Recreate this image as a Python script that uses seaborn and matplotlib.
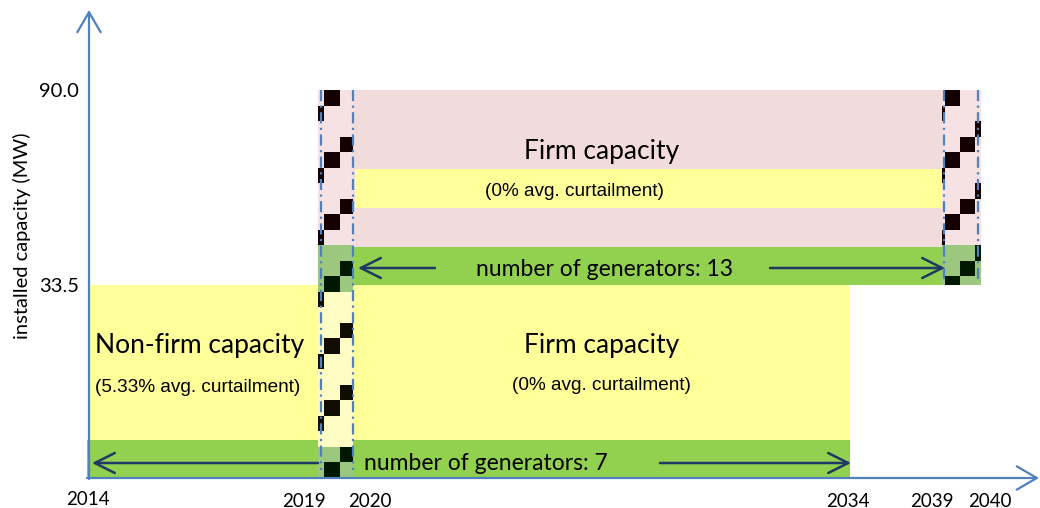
import numpy as np
import matplotlib
matplotlib.use("Agg")
import matplotlib.pyplot as plt
from matplotlib.transforms import ScaledTranslation
import seaborn as sns

W, H = 1040, 508

# --- schematic axes --------------------------------------------------------
years = [2014, 2019, 2020, 2034, 2039, 2040]
capacity_ticks = [33.5, 90.0]
capacity_labels = ["33.5", "90.0"]

# where the drawing puts each year / capacity (pixels), it is not to scale
year_px = [89, 318, 355, 850, 943, 980]
cap_levels = [0, 33.5, 90.0]
cap_px = [30, 223, 418]

# --- capacity blocks ---------------------------------------------------------
block_start = [2014, 2019, 2014, 2020, 2019]
block_end = [2034, 2040, 2034, 2039, 2040]
block_low = [0, 33.5, 0, 55.8, 33.5]
block_high = [33.5, 90.0, 6.6, 67.1, 44.5]
block_kind = ["yellow", "pink", "green", "yellow", "green"]

PALETTE = {"yellow": "#ffff99", "pink": "#f2dcdb", "green": "#92d050"}
LIGHT = {"yellow": "#fffcc4", "pink": "#f6e2e2", "green": "#9cc77e"}
DARK = {"yellow": "#100c00", "pink": "#140000", "green": "#001800"}
AXIS_BLUE = "#4f81bd"
NAVY = "#1f3864"


def pw_lin(v, src, dst):
    # piecewise linear with straight extension past both ends
    src = np.asarray(src, float)
    dst = np.asarray(dst, float)
    v = np.asarray(v, float)
    out = np.interp(v, src, dst)
    s0 = (dst[1] - dst[0]) / (src[1] - src[0])
    s1 = (dst[-1] - dst[-2]) / (src[-1] - src[-2])
    out = np.where(v < src[0], dst[0] + (v - src[0]) * s0, out)
    out = np.where(v > src[-1], dst[-1] + (v - src[-1]) * s1, out)
    return out


def x_fwd(v):
    return pw_lin(v, years, year_px)


def x_inv(p):
    return pw_lin(p, year_px, years)


def y_fwd(v):
    return pw_lin(v, cap_levels, cap_px)


def y_inv(p):
    return pw_lin(p, cap_px, cap_levels)


def xd(px):
    return float(x_inv(px))


def yd(py_top):
    # pixel counted from the top of the picture -> MW
    return float(y_inv(H - py_top))


sns.set_theme(style="white")
plt.rcParams["font.family"] = ["Lato", "DejaVu Sans"]

fig = plt.figure(figsize=(W / 100, H / 100), dpi=100)
fig.patch.set_facecolor("white")
ax = fig.add_axes([86 / W, 30 / H, (W - 86) / W, (498 - 30) / H])
ax.set_xscale("function", functions=(x_fwd, x_inv))
ax.set_yscale("function", functions=(y_fwd, y_inv))
ax.set_xlim(xd(86), xd(W))
ax.set_ylim(0, yd(10))
ax.set_facecolor("white")
sns.despine(ax=ax, left=True, bottom=True)

# blocks (the generator band pokes a little past the axis)
for s, e, lo, hi, k in zip(block_start, block_end, block_low, block_high, block_kind):
    if k == "green" and s == 2014:
        s = xd(87)
    ax.bar(s, hi - lo, width=e - s, bottom=lo, align="edge",
           color=PALETTE[k], linewidth=0, zorder=1)


# checkered transition columns (pattern only, drawn in pixel steps)
def band_at(py):
    if py < 247:
        return "pink"
    if py < 285:
        return "green"
    if py < 440:
        return "yellow"
    return "green"


def checker(cols, top, bottom, step=15.5):
    xs, ws, bs, hs, cs = [], [], [], [], []
    k = 0
    y0 = top
    while y0 < bottom - 0.5:
        y1 = min(y0 + step, bottom)
        band = band_at((y0 + y1) / 2)
        for x0, x1, phase in cols:
            xs.append(xd(x0))
            ws.append(xd(x1) - xd(x0))
            bs.append(yd(y1))
            hs.append(yd(y0) - yd(y1))
            cs.append(DARK[band] if k % 4 == phase else LIGHT[band])
        y0 = y1
        k += 1
    ax.bar(xs, hs, width=ws, bottom=bs, align="edge", color=cs,
           linewidth=0, zorder=2)


checker([(318, 324, 1), (324, 340, 0), (340, 353, 3)], 90, 478)
checker([(942, 945, 1), (945, 960, 0), (960, 975, 3), (975, 981, 2)], 90, 285)

# dash-dot guides
dd = dict(color=AXIS_BLUE, lw=1.6, linestyle=(0, (5, 2, 1, 2)), zorder=3)
ax.plot([xd(321), xd(321)], [yd(90), yd(470)], **dd)
ax.plot([xd(353), xd(353)], [yd(90), yd(470)], **dd)
ax.plot([xd(944), xd(944)], [yd(90), yd(283)], **dd)
ax.plot([xd(978), xd(978)], [yd(90), yd(283)], **dd)

# axes arrows
ax_arrow = dict(arrowstyle="->,head_length=1.2,head_width=0.7",
                color=AXIS_BLUE, lw=1.6, shrinkA=0, shrinkB=0)
ax.annotate("", xy=(2014, yd(10)), xytext=(2014, yd(479)),
            arrowprops=ax_arrow, annotation_clip=False, zorder=5)
ax.annotate("", xy=(xd(1039), 0), xytext=(xd(87), 0),
            arrowprops=ax_arrow, annotation_clip=False, zorder=5)

# generator arrows
g_arrow = dict(arrowstyle="->,head_length=1.2,head_width=0.6",
               color=NAVY, lw=1.8, shrinkA=0, shrinkB=0)
y_low = yd(463)
y_up = yd(268)
ax.annotate("", xy=(xd(92), y_low), xytext=(xd(318), y_low), arrowprops=g_arrow, zorder=4)
ax.annotate("", xy=(xd(851), y_low), xytext=(xd(660), y_low), arrowprops=g_arrow, zorder=4)
ax.annotate("", xy=(xd(358), y_up), xytext=(xd(435), y_up), arrowprops=g_arrow, zorder=4)
ax.annotate("", xy=(xd(945), y_up), xytext=(xd(770), y_up), arrowprops=g_arrow, zorder=4)

# ticks
ax.set_xticks(years, [str(y) for y in years])
ax.set_yticks(capacity_ticks, capacity_labels)
ax.tick_params(axis="both", length=0, labelcolor="black")
ax.tick_params(axis="x", pad=10, labelsize=13.5)
ax.tick_params(axis="y", pad=5, labelsize=14.5)
shifts = [(-1, 1), (-14, -1), (15, -1), (-2, -1), (-11, -1), (10, -1)]
for lab, (dx, dy) in zip(ax.get_xticklabels(), shifts):
    lab.set_transform(lab.get_transform() + ScaledTranslation(dx / 100, dy / 100, fig.dpi_scale_trans))

fig.text(22 / W, 1 - 236 / H, "installed capacity (MW)", rotation=90,
         ha="center", va="center", fontsize=14.5, color="black")


def txt(x, y, s, size, family=None, ha="center"):
    fam = family or ["Lato", "DejaVu Sans"]
    fig.text(x / W, 1 - y / H, s, ha=ha, va="center", fontsize=size,
             family=fam, color="black", zorder=6)


arial = ["Liberation Sans", "DejaVu Sans"]
txt(602, 152, "Firm capacity", 19)
txt(574, 191, "(0% avg. curtailment)", 13.7, arial)
txt(605, 270, "number of generators: 13", 16.5)
txt(95, 346, "Non-firm capacity", 19, ha="left")
txt(95, 387, "(5.33% avg. curtailment)", 13.7, arial, ha="left")
txt(602, 346, "Firm capacity", 19)
txt(601, 386, "(0% avg. curtailment)", 13.7, arial)
txt(486, 464, "number of generators: 7", 16.5)

fig.savefig("out.png", dpi=100)
